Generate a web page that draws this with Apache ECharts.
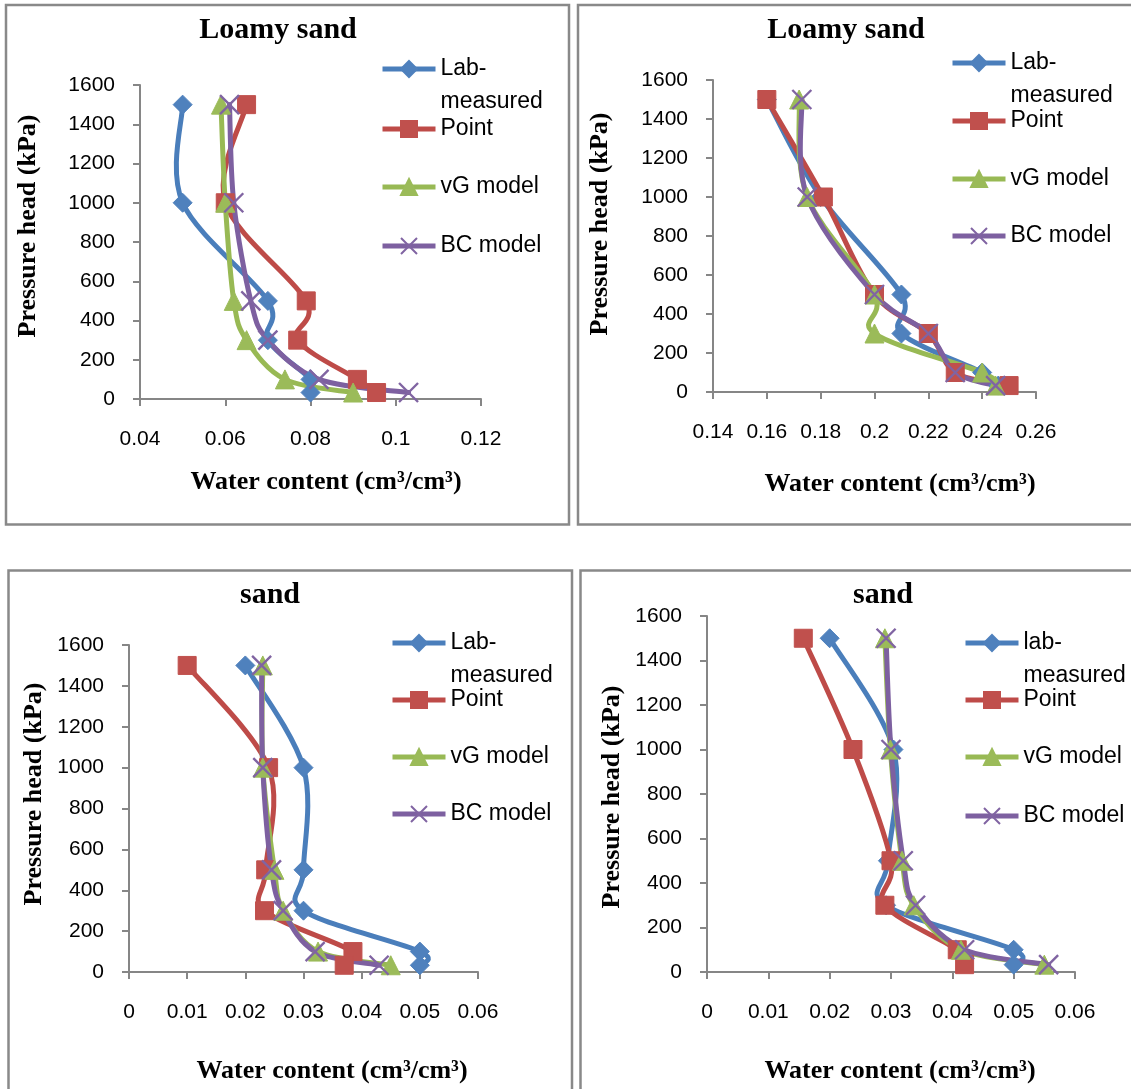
<!DOCTYPE html>
<html>
<head>
<meta charset="utf-8">
<script src="https://cdn.jsdelivr.net/npm/echarts@6/dist/echarts.min.js"></script>
<style>
html,body{margin:0;padding:0;background:#fff;}
#c{width:1131px;height:1089px;}
</style>
</head>
<body>
<div id="c"></div>
<script>
// ---- data ----
const heads = [1500, 1000, 500, 300, 100, 33];
const seriesNames = ['Lab-measured', 'Point', 'vG model', 'BC model'];
const seriesNamesP4 = ['lab-measured', 'Point', 'vG model', 'BC model'];
const panelTitles = ['Loamy sand', 'Loamy sand', 'sand', 'sand'];
const yTicks = [0, 200, 400, 600, 800, 1000, 1200, 1400, 1600];
const xTicksP1 = [0.04, 0.06, 0.08, 0.1, 0.12];
const xTicksP2 = [0.14, 0.16, 0.18, 0.2, 0.22, 0.24, 0.26];
const xTicksP3 = [0, 0.01, 0.02, 0.03, 0.04, 0.05, 0.06];
const xTicksP4 = [0, 0.01, 0.02, 0.03, 0.04, 0.05, 0.06];

// panel 1 : Loamy sand (left)
const p1Lab   = [0.050, 0.050, 0.070, 0.070, 0.080, 0.080];
const p1Point = [0.065, 0.060, 0.079, 0.077, 0.091, 0.0955];
const p1VG    = [0.059, 0.060, 0.062, 0.065, 0.074, 0.090];
const p1BC    = [0.061, 0.062, 0.066, 0.070, 0.082, 0.103];
// panel 2 : Loamy sand (right)
const p2Lab   = [0.160, 0.180, 0.210, 0.210, 0.240, 0.246];
const p2Point = [0.160, 0.181, 0.200, 0.220, 0.230, 0.250];
const p2VG    = [0.172, 0.175, 0.200, 0.200, 0.240, 0.245];
const p2BC    = [0.173, 0.175, 0.200, 0.220, 0.230, 0.245];
// panel 3 : sand (left)
const p3Lab   = [0.020, 0.030, 0.030, 0.030, 0.050, 0.050];
const p3Point = [0.010, 0.024, 0.0235, 0.0233, 0.0385, 0.037];
const p3VG    = [0.023, 0.023, 0.025, 0.0265, 0.0325, 0.045];
const p3BC    = [0.0228, 0.023, 0.0245, 0.0265, 0.032, 0.043];
// panel 4 : sand (right)
const p4Lab   = [0.020, 0.0304, 0.0295, 0.0292, 0.050, 0.050];
const p4Point = [0.0157, 0.0238, 0.030, 0.029, 0.0408, 0.042];
const p4VG    = [0.029, 0.0299, 0.0318, 0.0337, 0.0414, 0.055];
const p4BC    = [0.0292, 0.030, 0.032, 0.034, 0.042, 0.0557];

// ---- layout / style ----
const grids = [
  {left: 140, top: 85, width: 341, height: 314},
  {left: 713, top: 80, width: 323, height: 312},
  {left: 129, top: 645, width: 349, height: 327},
  {left: 707, top: 616, width: 368, height: 356}
];
const xTickSets = [xTicksP1, xTicksP2, xTicksP3, xTicksP4];
const panelData = [
  [p1Lab, p1Point, p1VG, p1BC],
  [p2Lab, p2Point, p2VG, p2BC],
  [p3Lab, p3Point, p3VG, p3BC],
  [p4Lab, p4Point, p4VG, p4BC]
];
const lineColors = ['#4A7EBB', '#BE4B48', '#98B954', '#7D60A0'];
const markColors = ['#4F81BD', '#C0504D', '#9BBB59', '#8064A2'];
const symbols = ['diamond', 'rect', 'triangle', 'path://M0,0L10,10M0,10L10,0'];
const symbolSizes = [19, 18, 19, 19];
const LINE_W = 5;
const axisGray = '#868686';
const sans = '"Liberation Sans", Arial, sans-serif';
const serif = '"Liberation Serif", "Times New Roman", serif';

const legendLeft = [380, 950, 390, 963];
const legendTops = [
  [19.5, 112.5, 170.5, 229.5],
  [13.5, 104.5, 162.5, 219.5],
  [593.5, 683.5, 740.5, 797.5],
  [593.5, 683.5, 740.5, 799.5]
];
const titlePos = [[278, 30], [846, 30], [270, 595], [883, 595]];
const xNamePos = [[326, 482], [900, 484], [332, 1071], [900, 1071]];
const yNamePos = [[28, 226], [600, 224], [34, 794], [612, 797]];

function fmt(v) { return String(+(+v).toFixed(4)); }

// Excel-like smoothed curve (Catmull-Rom, 1/6 tension) through the projected points
function smoothCurve(color) {
  return function (params, api) {
    if (params.dataIndexInside !== 0) return null;
    const n = params.dataInsideLength;
    const p = [];
    for (let j = 0; j < n; j++) p.push(api.coord([api.value(0, j), api.value(1, j)]));
    let d = 'M' + p[0][0] + ',' + p[0][1];
    for (let j = 0; j < n - 1; j++) {
      const p0 = p[j > 0 ? j - 1 : j], p1 = p[j], p2 = p[j + 1], p3 = p[j + 2 < n ? j + 2 : j + 1];
      const c1x = p1[0] + (p2[0] - p0[0]) / 6, c1y = p1[1] + (p2[1] - p0[1]) / 6;
      const c2x = p2[0] - (p3[0] - p1[0]) / 6, c2y = p2[1] - (p3[1] - p1[1]) / 6;
      d += 'C' + c1x + ',' + c1y + ',' + c2x + ',' + c2y + ',' + p2[0] + ',' + p2[1];
    }
    return {
      type: 'path', silent: true,
      shape: {pathData: d},
      style: {fill: 'none', stroke: color, lineWidth: LINE_W, lineJoin: 'round', lineCap: 'round'}
    };
  };
}

const xAxes = [], yAxes = [], series = [], curves = [], legends = [], graphics = [];
grids.forEach((g, i) => {
  const xt = xTickSets[i];
  const commonAxis = {
    splitLine: {show: false},
    axisLine: {show: true, onZero: false, lineStyle: {color: axisGray, width: 2}},
    axisTick: {show: true, length: 7, lineStyle: {color: axisGray, width: 2}}
  };
  xAxes.push(Object.assign({
    type: 'value', gridIndex: i,
    min: xt[0], max: xt[xt.length - 1], interval: +(xt[1] - xt[0]).toFixed(4),
    axisLabel: {fontSize: 21, fontFamily: sans, color: '#000', margin: 30, formatter: fmt, hideOverlap: false}
  }, commonAxis));
  yAxes.push(Object.assign({
    type: 'value', gridIndex: i,
    min: yTicks[0], max: yTicks[yTicks.length - 1], interval: yTicks[1] - yTicks[0],
    axisLabel: {fontSize: 21, fontFamily: sans, color: '#000', margin: 25, formatter: fmt}
  }, commonAxis));
  const names = i === 3 ? seriesNamesP4 : seriesNames;
  panelData[i].forEach((xs, k) => {
    const pts = xs.map((x, j) => [x, heads[j]]);
    // markers (and legend entry)
    series.push({
      type: 'line', name: names[k], xAxisIndex: i, yAxisIndex: i,
      data: pts,
      smooth: false,
      symbol: symbols[k], symbolSize: symbolSizes[k],
      showAllSymbol: true,
      lineStyle: {color: lineColors[k], width: LINE_W, opacity: 0},
      itemStyle: k === 3
        ? {color: markColors[k], borderColor: markColors[k], borderWidth: 2.4}
        : {color: markColors[k], borderColor: markColors[k], borderWidth: 1},
      emphasis: {disabled: true},
      z: 10 + k
    });
    // smoothed connecting line
    curves.push({
      type: 'custom', xAxisIndex: i, yAxisIndex: i,
      coordinateSystem: 'cartesian2d',
      encode: {x: 0, y: 1},
      data: pts,
      renderItem: smoothCurve(lineColors[k]),
      silent: true,
      z: 2 + k
    });
    const label = names[k].indexOf('-') >= 0 ? '\n' + names[k].replace('-', '-\n') : names[k];
    legends.push({
      left: legendLeft[i], top: legendTops[i][k], orient: 'vertical',
      padding: 0, itemWidth: 53, itemHeight: 20, itemGap: 0,
      selectedMode: false,
      data: [names[k]],
      formatter: () => label,
      lineStyle: {width: LINE_W, opacity: 1, color: lineColors[k]},
      textStyle: {fontSize: 23, fontFamily: sans, color: '#000', lineHeight: 33,
                  backgroundColor: 'rgba(255,255,255,0)'}
    });
  });
  graphics.push({
    type: 'text', x: titlePos[i][0], y: titlePos[i][1],
    style: {text: panelTitles[i], font: 'bold 30px ' + serif, fill: '#000',
            textAlign: 'center', textVerticalAlign: 'middle', align: 'center', verticalAlign: 'middle'}
  });
  graphics.push({
    type: 'text', x: xNamePos[i][0], y: xNamePos[i][1],
    style: {text: 'Water content (cm\u00B3/cm\u00B3)', font: 'bold 26px ' + serif, fill: '#000',
            textAlign: 'center', textVerticalAlign: 'middle', align: 'center', verticalAlign: 'middle'}
  });
  graphics.push({
    type: 'text', x: yNamePos[i][0], y: yNamePos[i][1], rotation: Math.PI / 2,
    style: {text: 'Pressure head (kPa)', font: 'bold 26px ' + serif, fill: '#000',
            textAlign: 'center', textVerticalAlign: 'middle', align: 'center', verticalAlign: 'middle'}
  });
});

// panel frames
const frames = [
  {x: 6, y: 5, width: 563, height: 519.5},
  {x: 578, y: 5, width: 600, height: 519.5},
  {x: 8.5, y: 570.5, width: 563.5, height: 600},
  {x: 580.5, y: 570.5, width: 600, height: 600}
];
frames.forEach(f => graphics.push({
  type: 'rect', shape: f, silent: true, z: -1,
  style: {fill: 'none', stroke: '#898989', lineWidth: 2.5}
}));

const chart = echarts.init(document.getElementById('c'), null, {renderer: 'canvas'});
chart.setOption({
  animation: false,
  backgroundColor: '#fff',
  grid: grids,
  xAxis: xAxes,
  yAxis: yAxes,
  legend: legends,
  series: series.concat(curves),
  graphic: graphics
});
</script>
</body>
</html>
